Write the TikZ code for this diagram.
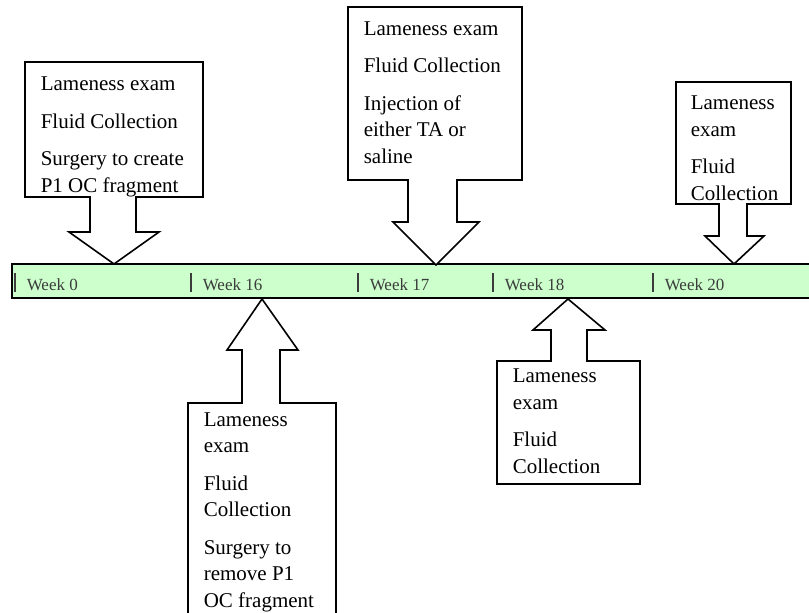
\documentclass[tikz,border=0pt]{standalone}
\usepackage{fontspec}
\setmainfont{Liberation Serif}
\definecolor{barfill}{RGB}{204,255,204}
\definecolor{weekgray}{RGB}{60,60,60}

\begin{document}
\begin{tikzpicture}[x=1pt,y=-1pt,line width=1.6pt,line join=miter]
  \useasboundingbox (0,0) rectangle (809,613);
  \clip (0,0) rectangle (809,613);

  \draw[fill=barfill] (12,264) rectangle (830,298);
  \begin{scope}[weekgray,line width=1.2pt]
    \draw (15,273) -- (15,292);
    \draw (191,273) -- (191,292);
    \draw (358,273) -- (358,292);
    \draw (493,273) -- (493,292);
    \draw (653,273) -- (653,292);
  \end{scope}
  \begin{scope}[every node/.style={anchor=base west,inner sep=0pt,text=weekgray,font=\fontsize{17}{20}\selectfont}]
    \node (week0) at (26,290) {Week 0};
    \node (week16) at (202,290) {Week 16};
    \node (week17) at (369,290) {Week 17};
    \node (week18) at (504,290) {Week 18};
    \node (week20) at (664,290) {Week 20};
  \end{scope}

  \begin{scope}[fill=white]
    \filldraw (25,62) -- (203,62) -- (203,197) -- (136,197) -- (136,232) -- (159,232)
      -- (114,264) -- (69,232) -- (90,232) -- (90,197) -- (25,197) -- cycle;
    \filldraw (348,7) -- (522,7) -- (522,180) -- (457,180) -- (457,222) -- (479,222)
      -- (436,265) -- (393,222) -- (408,222) -- (408,180) -- (348,180) -- cycle;
    \filldraw (676,82) -- (791,82) -- (791,204) -- (747,204) -- (747,236) -- (764,236)
      -- (734,264) -- (705,236) -- (719,236) -- (719,204) -- (676,204) -- cycle;
    \filldraw (188,640) -- (188,403) -- (242,403) -- (242,350) -- (227,350) -- (262,299)
      -- (298,350) -- (280,350) -- (280,403) -- (336,403) -- (336,640) -- cycle;
    \filldraw (497,484) -- (497,361) -- (551,361) -- (551,330) -- (533,330) -- (568,299)
      -- (605,330) -- (587,330) -- (587,361) -- (640,361) -- (640,484) -- cycle;
  \end{scope}

  \begin{scope}[every node/.style={anchor=base west,inner sep=0pt,align=left,font=\fontsize{21}{26.5}\selectfont}]
    \node (visit0) at (40,192) {Lameness exam\\[11pt]Fluid Collection\\[11pt]Surgery to create\\P1 OC fragment};
    \node (visit17) at (363,163) {Lameness exam\\[11pt]Fluid Collection\\[11pt]Injection of\\either TA or\\saline};
    \node (visit20) at (690,200) {Lameness\\exam\\[11pt]Fluid\\Collection};
    \node (visit16) at (203,607) {Lameness\\exam\\[11pt]Fluid\\Collection\\[11pt]Surgery to\\remove P1\\OC fragment};
    \node (visit18) at (512,473) {Lameness\\exam\\[11pt]Fluid\\Collection};
  \end{scope}
\end{tikzpicture}
\end{document}
